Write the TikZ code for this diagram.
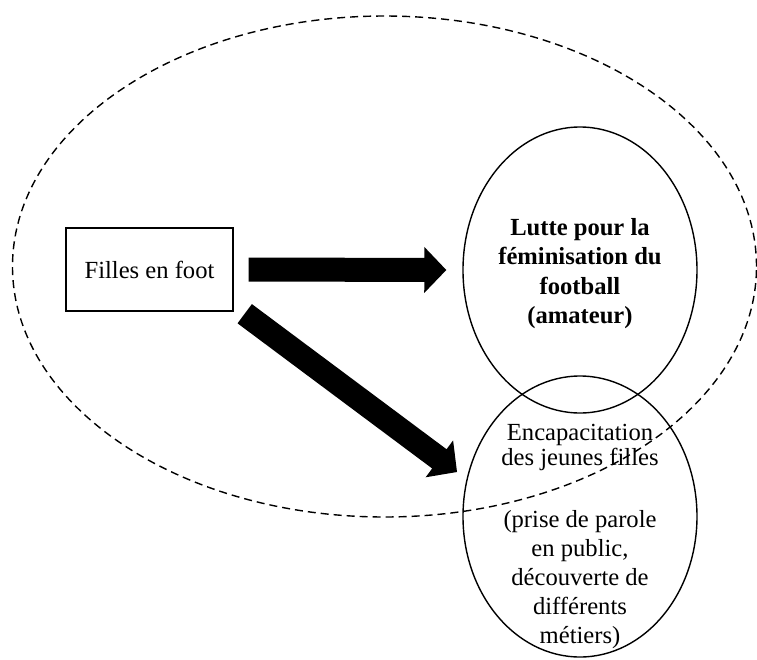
\documentclass[tikz,border=0pt]{standalone}
\usepackage{fontspec}
\setmainfont{Liberation Serif}
\usetikzlibrary{shapes.geometric,calc}
\newcommand{\fatarrow}[2]{%
  \coordinate (fatH) at ($(#2)!11pt!(#1)$);
  \fill[black] ($(#1)!6pt!90:(#2)$) -- ($(fatH)!6pt!-90:(#1)$) -- ($(fatH)!11.5pt!-90:(#1)$) -- (#2)
     -- ($(fatH)!11.5pt!90:(#1)$) -- ($(fatH)!6pt!90:(#1)$) -- ($(#1)!6pt!-90:(#2)$) -- cycle;}
\begin{document}
\begin{tikzpicture}[x=0.5pt,y=-0.5pt,
  txt/.style={font=\fontsize{12.3}{14.5}\selectfont, align=center, inner sep=0pt},
  oval/.style={draw, ellipse, line width=0.7pt, inner sep=0pt, minimum width=117pt},
  bigoval/.style={draw, ellipse, line width=0.7pt, dash pattern=on 4pt off 2.5pt, inner sep=0pt},
  box/.style={draw, line width=0.7pt, inner sep=0pt, minimum width=83.5pt, minimum height=41.5pt,
    font=\fontsize{12.3}{14.4}\selectfont}]
\useasboundingbox (0,0) rectangle (757,660);
\node[bigoval, minimum width=372pt, minimum height=250.5pt] (outer) at (384.5,266.5) {};
\node[oval, minimum height=143pt] (lutte) at (580,270) {};
\node[txt, font=\fontsize{12.3}{14.6}\selectfont\bfseries] (luttetxt) at (580,273.5)
  {Lutte pour la\\féminisation du\\football\\(amateur)};
\node[oval, minimum height=140.5pt] (encap) at (580,516.5) {};
\node[txt, font=\fontsize{12.3}{12.5}\selectfont, anchor=north] (encaptxt) at (580,424)
  {Encapacitation\\des jeunes filles};
\node[txt, anchor=north] (encapdesc) at (580,510)
  {(prise de parole\\en public,\\découverte de\\différents\\métiers)};
\node[box] (filles) at (149.5,269.5) {Filles en foot};
\coordinate (h1) at ($(filles.east)+(15,0)$);
\coordinate (h2) at ($(lutte.west)+(-16,0)$);
\fatarrow{h1}{h2}
\coordinate (d1) at ($(filles.south east)+(11,2)$);
\coordinate (d2) at (457,472);
\fatarrow{d1}{d2}
\end{tikzpicture}
\end{document}
